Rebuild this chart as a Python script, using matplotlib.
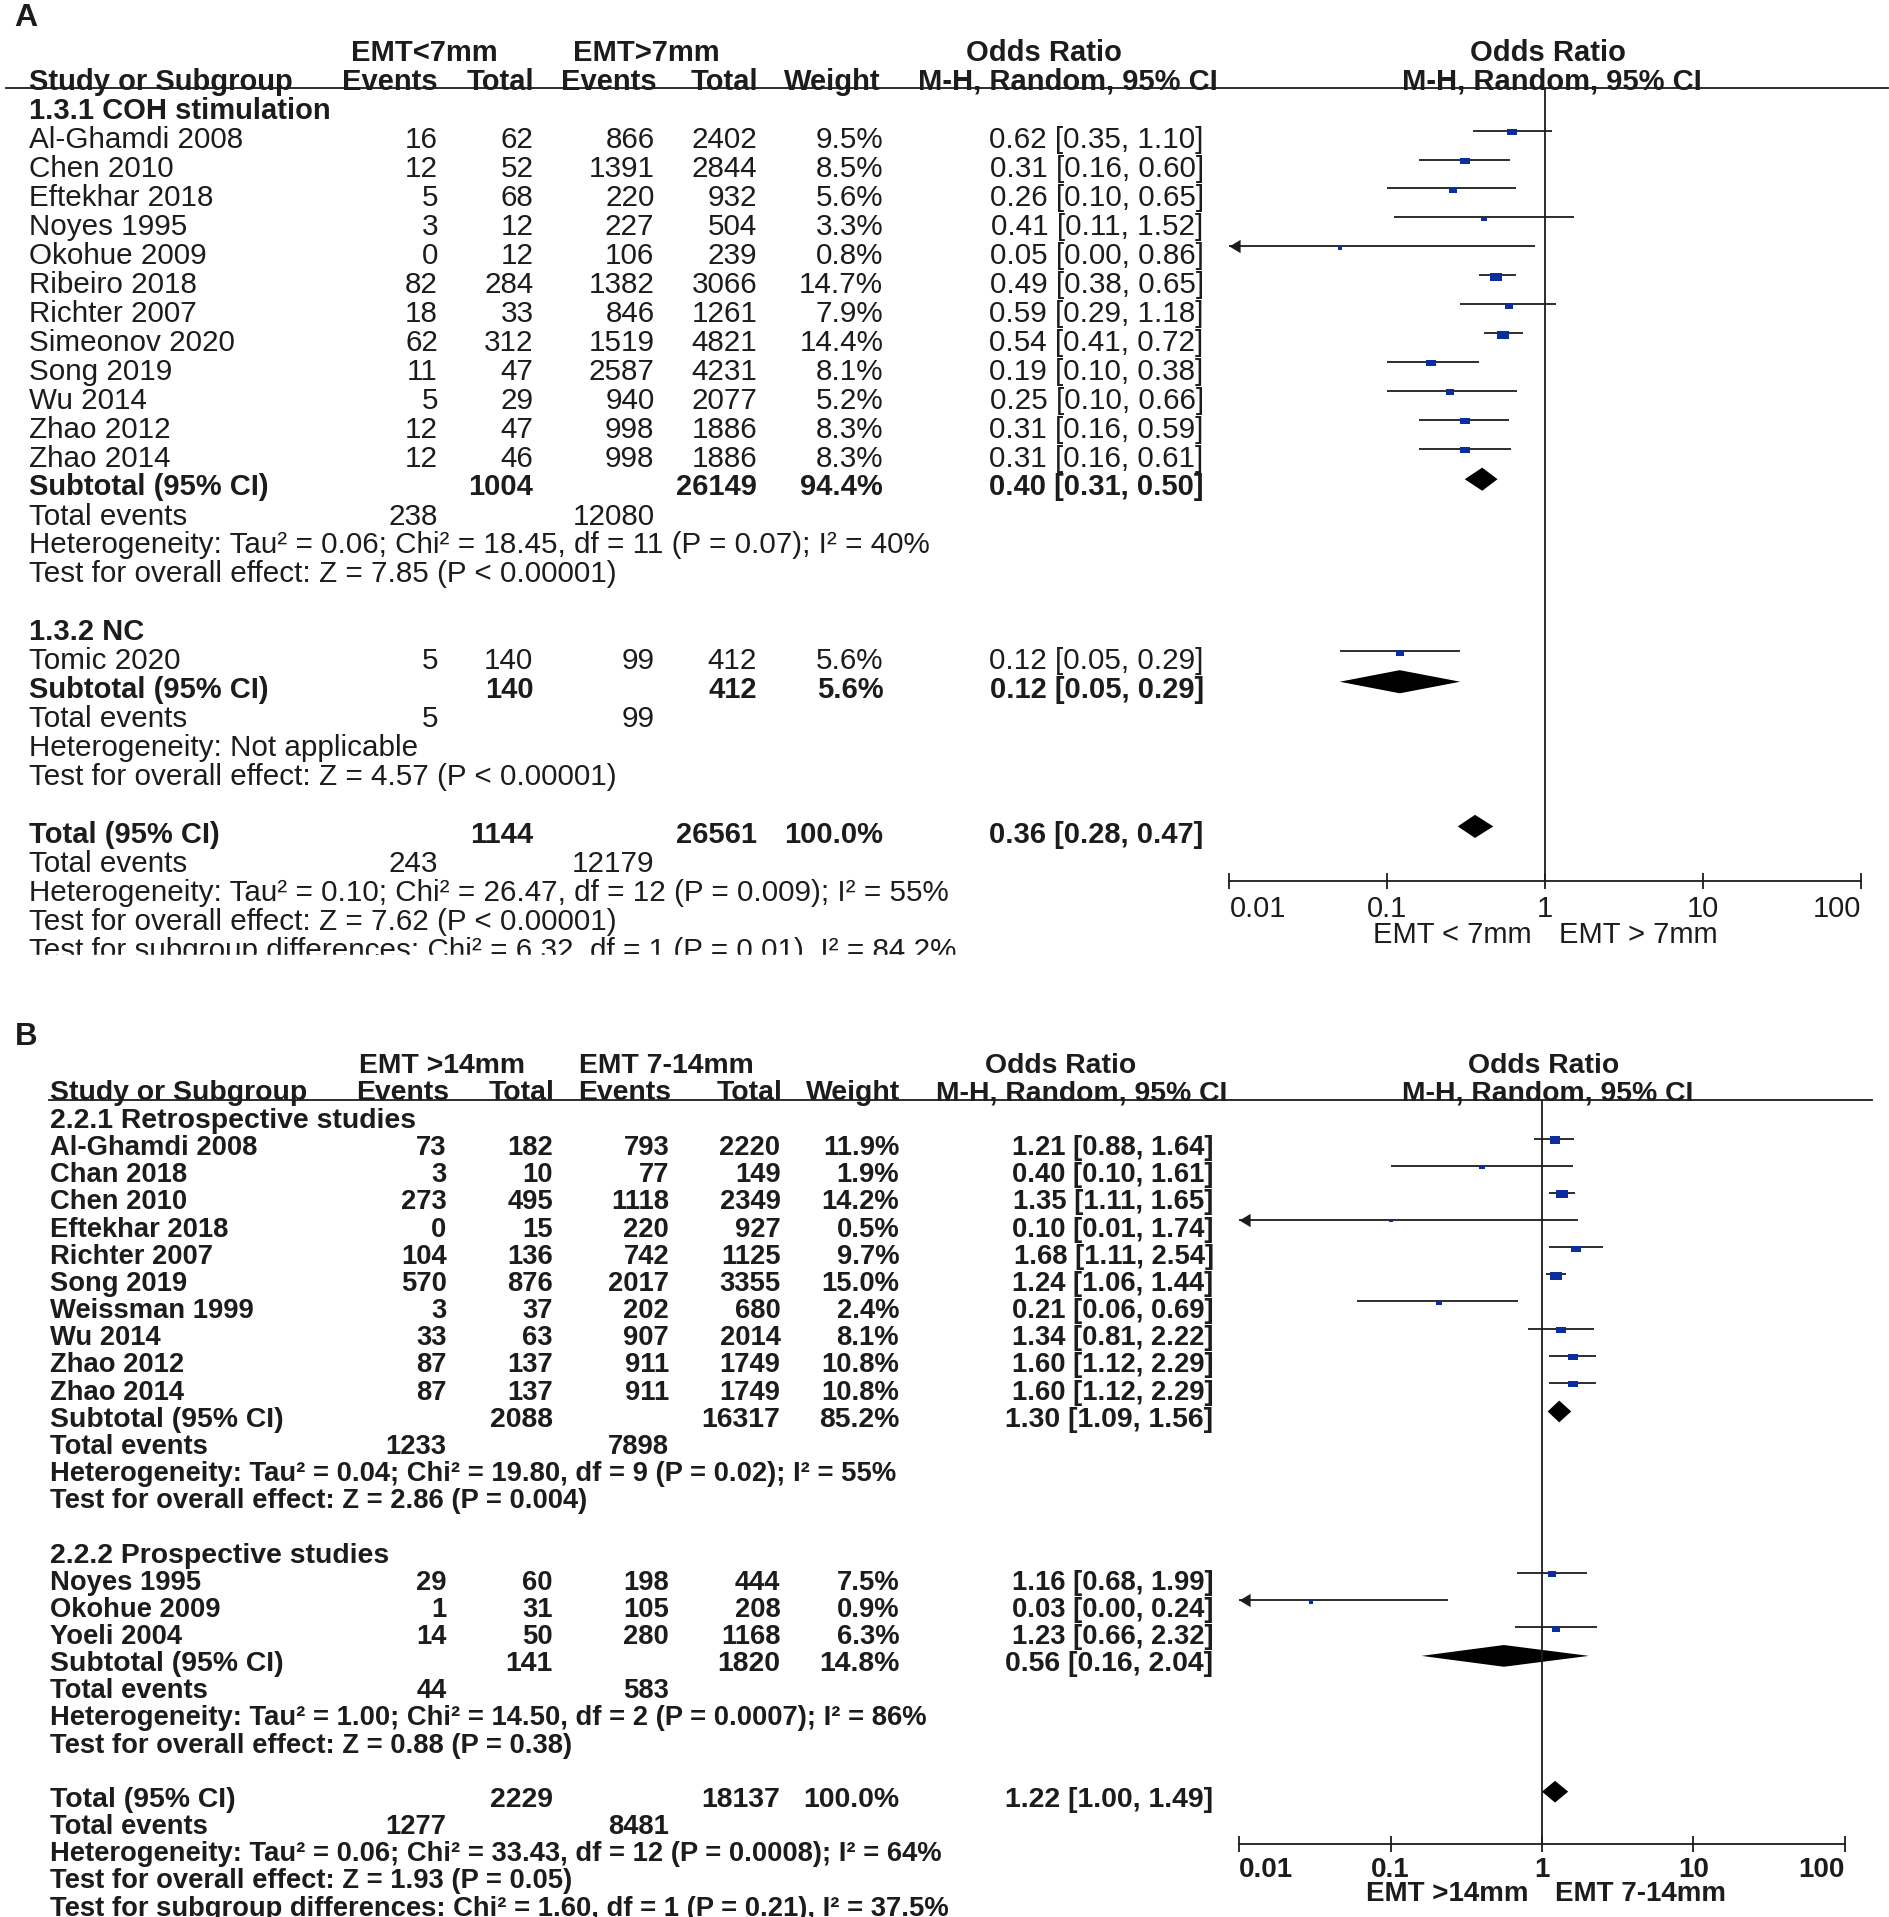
import numpy as np
import matplotlib.pyplot as plt
from matplotlib.path import Path
from matplotlib.patches import Rectangle
from matplotlib.ticker import NullLocator

plt.rcParams['font.family'] = ['Liberation Sans', 'DejaVu Sans']

# ======================================================
# PANEL A DATA  (EMT<7mm vs EMT>7mm)
# ======================================================
a1_title = "1.3.1 COH stimulation"
a1_study = ["Al-Ghamdi 2008", "Chen 2010", "Eftekhar 2018", "Noyes 1995", "Okohue 2009",
            "Ribeiro 2018", "Richter 2007", "Simeonov 2020", "Song 2019", "Wu 2014",
            "Zhao 2012", "Zhao 2014"]
a1_ev1 = [16, 12, 5, 3, 0, 82, 18, 62, 11, 5, 12, 12]
a1_n1 = [62, 52, 68, 12, 12, 284, 33, 312, 47, 29, 47, 46]
a1_ev2 = [866, 1391, 220, 227, 106, 1382, 846, 1519, 2587, 940, 998, 998]
a1_n2 = [2402, 2844, 932, 504, 239, 3066, 1261, 4821, 4231, 2077, 1886, 1886]
a1_w = [9.5, 8.5, 5.6, 3.3, 0.8, 14.7, 7.9, 14.4, 8.1, 5.2, 8.3, 8.3]
a1_or = [0.62, 0.31, 0.26, 0.41, 0.05, 0.49, 0.59, 0.54, 0.19, 0.25, 0.31, 0.31]
a1_lo = [0.35, 0.16, 0.10, 0.11, 0.00, 0.38, 0.29, 0.41, 0.10, 0.10, 0.16, 0.16]
a1_hi = [1.10, 0.60, 0.65, 1.52, 0.86, 0.65, 1.18, 0.72, 0.38, 0.66, 0.59, 0.61]
a1_sub = [1004, 26149, 94.4, 0.40, 0.31, 0.50]
a1_events = [238, 12080]
a1_het = "Heterogeneity: Tau² = 0.06; Chi² = 18.45, df = 11 (P = 0.07); I² = 40%"
a1_test = "Test for overall effect: Z = 7.85 (P < 0.00001)"

a2_title = "1.3.2 NC"
a2_study = ["Tomic 2020"]
a2_ev1 = [5]
a2_n1 = [140]
a2_ev2 = [99]
a2_n2 = [412]
a2_w = [5.6]
a2_or = [0.12]
a2_lo = [0.05]
a2_hi = [0.29]
a2_sub = [140, 412, 5.6, 0.12, 0.05, 0.29]
a2_events = [5, 99]
a2_het = "Heterogeneity: Not applicable"
a2_test = "Test for overall effect: Z = 4.57 (P < 0.00001)"

a_tot = [1144, 26561, 100.0, 0.36, 0.28, 0.47]
a_events = [243, 12179]
a_het = "Heterogeneity: Tau² = 0.10; Chi² = 26.47, df = 12 (P = 0.009); I² = 55%"
a_test = "Test for overall effect: Z = 7.62 (P < 0.00001)"
a_subgr = "Test for subgroup differences: Chi² = 6.32, df = 1 (P = 0.01), I² = 84.2%"
a_arms = ["EMT<7mm", "EMT>7mm"]
a_favours = ["EMT < 7mm", "EMT > 7mm"]

# ======================================================
# PANEL B DATA  (EMT >14mm vs EMT 7-14mm)
# ======================================================
b1_title = "2.2.1 Retrospective studies"
b1_study = ["Al-Ghamdi 2008", "Chan 2018", "Chen 2010", "Eftekhar 2018", "Richter 2007",
            "Song 2019", "Weissman 1999", "Wu 2014", "Zhao 2012", "Zhao 2014"]
b1_ev1 = [73, 3, 273, 0, 104, 570, 3, 33, 87, 87]
b1_n1 = [182, 10, 495, 15, 136, 876, 37, 63, 137, 137]
b1_ev2 = [793, 77, 1118, 220, 742, 2017, 202, 907, 911, 911]
b1_n2 = [2220, 149, 2349, 927, 1125, 3355, 680, 2014, 1749, 1749]
b1_w = [11.9, 1.9, 14.2, 0.5, 9.7, 15.0, 2.4, 8.1, 10.8, 10.8]
b1_or = [1.21, 0.40, 1.35, 0.10, 1.68, 1.24, 0.21, 1.34, 1.60, 1.60]
b1_lo = [0.88, 0.10, 1.11, 0.01, 1.11, 1.06, 0.06, 0.81, 1.12, 1.12]
b1_hi = [1.64, 1.61, 1.65, 1.74, 2.54, 1.44, 0.69, 2.22, 2.29, 2.29]
b1_sub = [2088, 16317, 85.2, 1.30, 1.09, 1.56]
b1_events = [1233, 7898]
b1_het = "Heterogeneity: Tau² = 0.04; Chi² = 19.80, df = 9 (P = 0.02); I² = 55%"
b1_test = "Test for overall effect: Z = 2.86 (P = 0.004)"

b2_title = "2.2.2 Prospective studies"
b2_study = ["Noyes 1995", "Okohue 2009", "Yoeli 2004"]
b2_ev1 = [29, 1, 14]
b2_n1 = [60, 31, 50]
b2_ev2 = [198, 105, 280]
b2_n2 = [444, 208, 1168]
b2_w = [7.5, 0.9, 6.3]
b2_or = [1.16, 0.03, 1.23]
b2_lo = [0.68, 0.00, 0.66]
b2_hi = [1.99, 0.24, 2.32]
b2_sub = [141, 1820, 14.8, 0.56, 0.16, 2.04]
b2_events = [44, 583]
b2_het = "Heterogeneity: Tau² = 1.00; Chi² = 14.50, df = 2 (P = 0.0007); I² = 86%"
b2_test = "Test for overall effect: Z = 0.88 (P = 0.38)"

b_tot = [2229, 18137, 100.0, 1.22, 1.00, 1.49]
b_events = [1277, 8481]
b_het = "Heterogeneity: Tau² = 0.06; Chi² = 33.43, df = 12 (P = 0.0008); I² = 64%"
b_test = "Test for overall effect: Z = 1.93 (P = 0.05)"
b_subgr = "Test for subgroup differences: Chi² = 1.60, df = 1 (P = 0.21), I² = 37.5%"
b_arms = ["EMT >14mm", "EMT 7-14mm"]
b_favours = ["EMT >14mm", "EMT 7-14mm"]

# ======================================================
# STYLE / LAYOUT
# ======================================================
INK = "#1c1c1c"
BLUE = "#0b2e9e"
W, H = 1545.0, 1567.0            # layout units
SC = 1890.0 / W                  # pixels per layout unit
PT = 100.0 / 72.0 / SC           # layout units per point

BOX = Path([(-1, -0.68), (1, -0.68), (1, 0.68), (-1, 0.68), (-1, -0.68)], closed=True)
ARROW = Path([(0, 0), (1, 0.6), (1, -0.6), (0, 0)], closed=True)

fig = plt.figure(figsize=(18.9, 19.17), dpi=100)
tx = fig.add_axes([0, 0, 1, 1])
tx.set_xlim(0, W)
tx.set_ylim(H, 0)
tx.axis("off")


def txt(x, y, s, size, bold, ha="left"):
    tx.text(x, y + 0.358 * size * PT, s, ha=ha, va="baseline", fontsize=size,
            fontweight="bold" if bold else "normal", color=INK)


def or_str(o, l, h):
    return f"{o:.2f} [{l:.2f}, {h:.2f}]"


def panel(lay, groups, total, tot_events, het, test, subgr, arms, favours):
    fs, fsb, ab = lay["fs"], lay["fsb"], lay["allbold"]
    top, step = lay["top"], lay["step"]
    c = lay["cols"]

    def row(k):
        return top + step * k

    # panel letter + headers
    txt(lay["letter_xy"][0], lay["letter_xy"][1], lay["letter"], fsb + 2, True)
    h1, h2 = lay["head_y"]
    txt(lay["arm_x"][0], h1, arms[0], fsb, True, "center")
    txt(lay["arm_x"][1], h1, arms[1], fsb, True, "center")
    txt(lay["orh_x"][0], h1, "Odds Ratio", fsb, True, "center")
    txt(lay["plot_head_x"][0], h1, "Odds Ratio", fsb, True, "center")
    txt(lay["name_x"], h2, "Study or Subgroup", fsb, True)
    for cx, s in zip(lay["head_cols"], ["Events", "Total", "Events", "Total", "Weight"]):
        txt(cx, h2, s, fsb, True, "right")
    txt(lay["orh_x"][1], h2, "M-H, Random, 95% CI", fsb, True, "center")
    txt(lay["plot_head_x"][1], h2, "M-H, Random, 95% CI", fsb, True, "center")
    tx.plot(lay["line_x"], [lay["line_y"]] * 2, color=INK, lw=1.3)

    # forest axes
    x0, x1 = lay["plot_x"]
    y0, y1 = lay["line_y"], lay["axis_y"]
    ax = fig.add_axes([x0 / W, 1 - y1 / H, (x1 - x0) / W, (y1 - y0) / H])
    ax.set_xscale("log")
    ax.set_xlim(0.01, 100)
    ax.set_ylim((y1 - top) / step, (y0 - top) / step)
    ax.patch.set_alpha(0)
    for s in ["top", "left", "right"]:
        ax.spines[s].set_visible(False)
    ax.spines["bottom"].set_linewidth(1.3)
    ax.spines["bottom"].set_color(INK)
    ax.set_yticks([])
    ax.set_xticks([0.01, 0.1, 1, 10, 100])
    ax.set_xticklabels(["0.01", "0.1", "1", "10", "100"])
    ax.xaxis.set_minor_locator(NullLocator())
    tfs = lay["tick_fs"]
    ax.tick_params(axis="x", direction="inout", length=12, width=1.3, colors=INK,
                   labelsize=tfs, pad=lay["tick_pad"])
    labs = ax.get_xticklabels()
    for lab in labs:
        lab.set_fontweight("bold" if ab else "normal")
    labs[0].set_ha("left")
    labs[-1].set_ha("right")
    ax.axvline(1, color=INK, lw=1.3)
    off = -(lay["fav_off"] + 0.358 * tfs)
    ax.annotate(favours[0], xy=(0.82, 0), xycoords=("data", "axes fraction"),
                xytext=(0, off), textcoords="offset points", ha="right", va="baseline",
                fontsize=tfs, fontweight="bold" if ab else "normal", color=INK)
    ax.annotate(favours[1], xy=(1.22, 0), xycoords=("data", "axes fraction"),
                xytext=(0, off), textcoords="offset points", ha="left", va="baseline",
                fontsize=tfs, fontweight="bold" if ab else "normal", color=INK)

    def diamond(k, est, lo, hi):
        yd = k - 0.2
        ax.fill([lo, est, hi, est], [yd, yd - 0.4, yd, yd + 0.4], color="black", lw=0)

    def summary(k, label, vals):
        y = row(k)
        txt(lay["name_x"], y, label, fsb, True)
        txt(c[1], y, str(vals[0]), fsb, True, "right")
        txt(c[3], y, str(vals[1]), fsb, True, "right")
        txt(c[4], y, f"{vals[2]:.1f}%", fsb, True, "right")
        txt(lay["or_x"], y, or_str(*vals[3:]), fsb, True, "right")
        diamond(k, *vals[3:])

    def events(k, ev):
        y = row(k)
        txt(lay["name_x"], y, "Total events", fs, ab)
        txt(c[0], y, str(ev[0]), fs, ab, "right")
        txt(c[2], y, str(ev[1]), fs, ab, "right")

    k = 0
    for g in groups:
        txt(lay["name_x"], row(k), g["title"], fsb, True)
        k += 1
        for i, name in enumerate(g["study"]):
            y = row(k)
            txt(lay["name_x"], y, name, fs, ab)
            vals = [g["ev1"][i], g["n1"][i], g["ev2"][i], g["n2"][i]]
            for cx, v in zip(c[:4], vals):
                txt(cx, y, str(v), fs, ab, "right")
            txt(c[4], y, f"{g['w'][i]:.1f}%", fs, ab, "right")
            txt(lay["or_x"], y, or_str(g["or"][i], g["lo"][i], g["hi"][i]), fs, ab, "right")
            yk = k - 0.25
            lo = max(g["lo"][i], 0.01)
            ax.plot([lo, g["hi"][i]], [yk, yk], color=INK, lw=1.3, solid_capstyle="butt")
            if g["lo"][i] <= 0.01:
                ax.plot([0.01], [yk], marker=ARROW, ms=16, color=INK, mew=0, clip_on=False)
            wpx = 2.8 + 2.2 * np.sqrt(g["w"][i])
            ax.scatter([g["or"][i]], [yk + 0.05], s=(wpx * 0.72) ** 2, marker=BOX,
                       color=BLUE, linewidths=0, zorder=3)
            k += 1
        summary(k, "Subtotal (95% CI)", g["sub"])
        events(k + 1, g["events"])
        txt(lay["name_x"], row(k + 2), g["het"], fs, ab)
        txt(lay["name_x"], row(k + 3), g["test"], fs, ab)
        k += 5

    summary(k, "Total (95% CI)", total)
    events(k + 1, tot_events)
    txt(lay["name_x"], row(k + 2), het, fs, ab)
    txt(lay["name_x"], row(k + 3), test, fs, ab)
    txt(lay["name_x"], row(k + 4), subgr, fs, ab)
    return ax


def grp(title, study, ev1, n1, ev2, n2, w, o, lo, hi, sub, events, het, test):
    return dict(title=title, study=study, ev1=ev1, n1=n1, ev2=ev2, n2=n2, w=w,
                lo=lo, hi=hi, sub=sub, events=events, het=het, test=test, **{"or": o})


lay_a = dict(fs=21.3, fsb=21, tick_fs=21, allbold=False, top=89, step=23.65, name_x=24,
             cols=[358, 436, 535, 619, 722], head_cols=[358, 437, 537, 620, 720],
             or_x=984, letter="A", letter_xy=(12, 12), head_y=(41, 65),
             arm_x=[347, 528], orh_x=[853, 873], plot_head_x=[1265, 1269],
             line_x=[5, 1543], line_y=72, plot_x=(1005, 1521), axis_y=720,
             tick_pad=4.0, fav_off=37.0)

lay_b = dict(fs=19.7, fsb=20.4, tick_fs=20, allbold=True, top=914, step=22.2, name_x=41,
             cols=[365, 452, 547, 638, 735], head_cols=[367, 453, 549, 640, 736],
             or_x=992, letter="B", letter_xy=(12, 845), head_y=(869, 891),
             arm_x=[361, 545], orh_x=[867, 884], plot_head_x=[1262, 1265],
             line_x=[40, 1530], line_y=899, plot_x=(1013, 1508), axis_y=1507,
             tick_pad=3.3, fav_off=34.0)

panel(lay_a,
      [grp(a1_title, a1_study, a1_ev1, a1_n1, a1_ev2, a1_n2, a1_w, a1_or, a1_lo, a1_hi,
           a1_sub, a1_events, a1_het, a1_test),
       grp(a2_title, a2_study, a2_ev1, a2_n1, a2_ev2, a2_n2, a2_w, a2_or, a2_lo, a2_hi,
           a2_sub, a2_events, a2_het, a2_test)],
      a_tot, a_events, a_het, a_test, a_subgr, a_arms, a_favours)

panel(lay_b,
      [grp(b1_title, b1_study, b1_ev1, b1_n1, b1_ev2, b1_n2, b1_w, b1_or, b1_lo, b1_hi,
           b1_sub, b1_events, b1_het, b1_test),
       grp(b2_title, b2_study, b2_ev1, b2_n1, b2_ev2, b2_n2, b2_w, b2_or, b2_lo, b2_hi,
           b2_sub, b2_events, b2_het, b2_test)],
      b_tot, b_events, b_het, b_test, b_subgr, b_arms, b_favours)

# panel A is cut off just under its last line in the original figure
tx.add_patch(Rectangle((0, 781), W, 45, color="white", zorder=10))

fig.savefig("out.png", dpi=100)
